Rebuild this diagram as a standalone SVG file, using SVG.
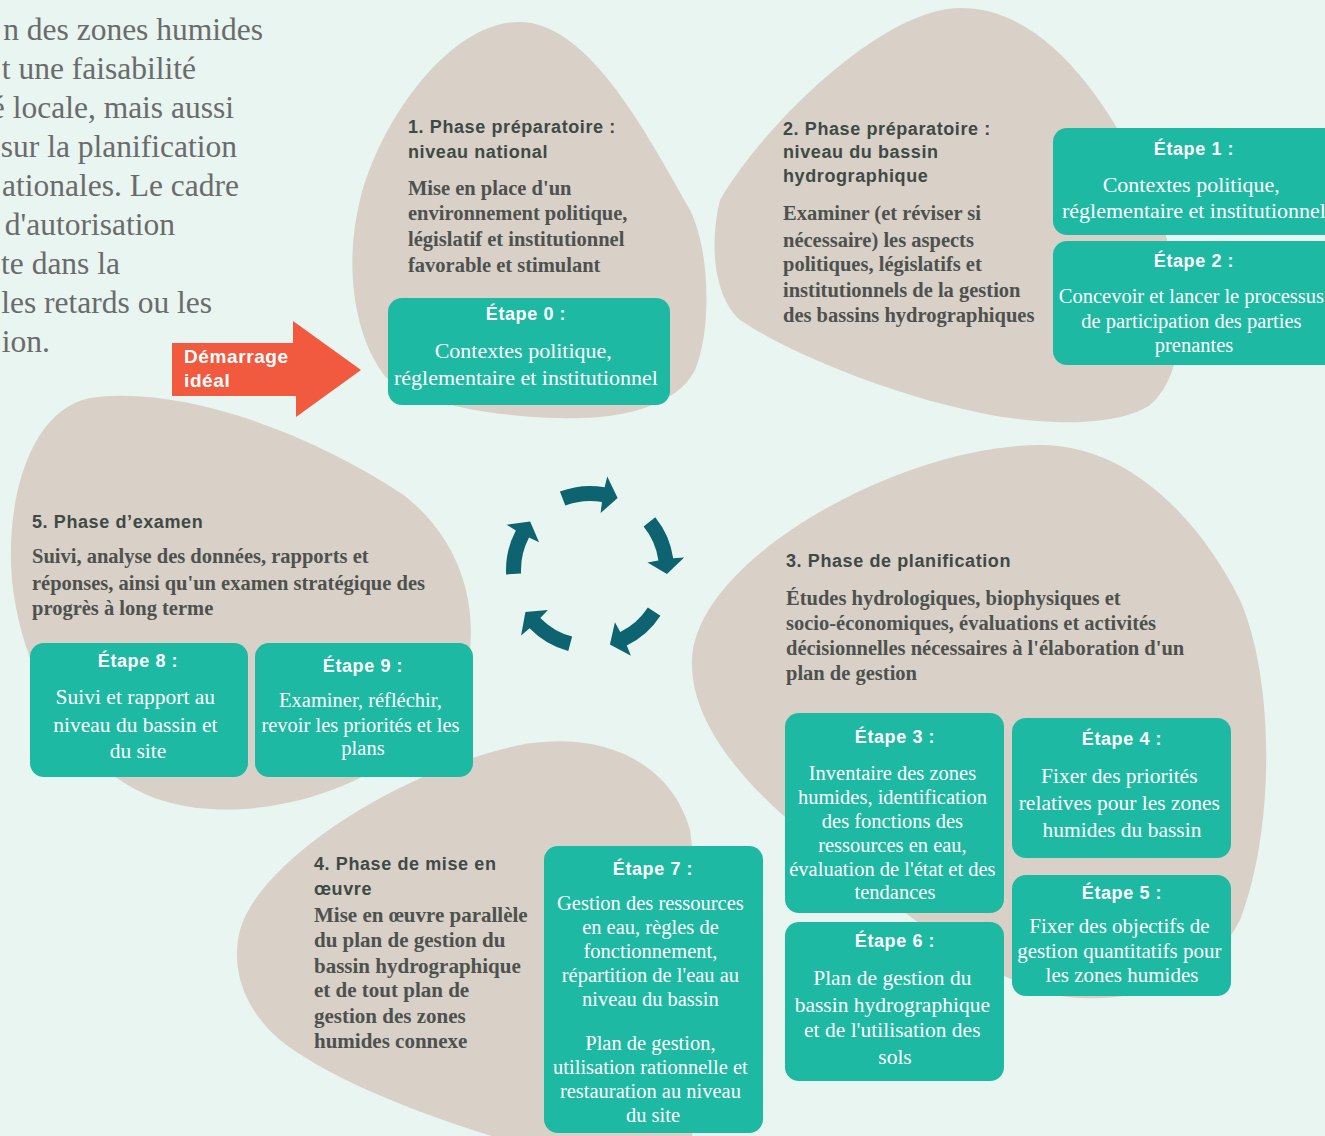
<svg xmlns="http://www.w3.org/2000/svg" width="1325" height="1136" viewBox="0 0 1325 1136">
  <defs>
    <style>
      .blob{fill:#d9d0c7}
      .box{fill:#1db9a2}
      .hd{font-family:'Liberation Sans',Arial,sans-serif;font-weight:700;font-size:18px;letter-spacing:0.6px;fill:#3e4a46}
      .bd{font-family:'Liberation Serif','Times New Roman',serif;font-weight:700;font-size:20.5px;fill:#4d524f}
      .st{font-family:'Liberation Sans',Arial,sans-serif;font-weight:700;font-size:18px;letter-spacing:0.6px;fill:#ffffff;text-anchor:middle}
      .sb{font-family:'Liberation Serif','Times New Roman',serif;font-size:21px;fill:#ffffff;text-anchor:middle}
      .intro{font-family:'Liberation Serif','Times New Roman',serif;font-size:31.5px;fill:#6b6b6b;text-anchor:end}
      .start{font-family:'Liberation Sans',Arial,sans-serif;font-weight:700;font-size:19px;letter-spacing:0.6px;fill:#ffffff}
      .cyc{fill:#0e6370}
    </style>
    <!-- one curved arrow of the cycle, centred on (590,570) -->
    <path id="cyc-arrow" d="M 559.9 491.6 A 84 84 0 0 1 604.6 487.3 L 607.3 476.6 L 617.6 498.1 L 600.6 513 L 602 502 A 69 69 0 0 0 565.3 505.6 Z"/>
  </defs>

  <rect width="1325" height="1136" fill="#e8f5f1"/>

  <!-- paragraph running in from the left margin -->
  <g id="intro-text" class="intro">
    <text x="263" y="40">n des zones humides</text>
    <text x="196" y="79">t une faisabilité</text>
    <text x="234" y="118">é locale, mais aussi</text>
    <text x="237" y="157">sur la planification</text>
    <text x="239" y="196">ationales. Le cadre</text>
    <text x="175" y="235">d'autorisation</text>
    <text x="120" y="274">te dans la</text>
    <text x="212" y="313">les retards ou les</text>
    <text x="50" y="352">ion.</text>
  </g>

  <!-- phase backgrounds -->
  <g id="phase-blobs">
    <path class="blob" d="M 519 22 C 585 22 640 120 690 210 C 710 250 712 330 695 370 C 675 410 610 420 560 418 C 470 416 395 395 382 372 C 352 330 345 260 360 200 C 380 120 450 22 519 22 Z"/>
    <path class="blob" d="M 961 8 C 1040 8 1100 90 1140 170 C 1180 250 1200 360 1150 405 C 1120 425 1060 425 1010 418 C 920 405 800 360 740 320 C 712 295 710 240 720 200 C 760 130 880 8 961 8 Z"/>
    <path class="blob" d="M 90 398 C 180 385 310 432 405 496 C 460 540 475 600 470 650 C 465 720 380 780 300 800 C 240 815 170 815 120 780 C 60 740 20 660 12 580 C 5 500 30 410 90 398 Z"/>
    <path class="blob" d="M 1040 445 C 1130 445 1200 520 1240 600 C 1275 680 1275 830 1240 920 C 1210 980 1150 1000 1080 998 C 1000 995 900 910 800 830 C 740 780 690 720 692 660 C 695 560 900 445 1040 445 Z"/>
    <path class="blob" d="M 240 930 C 260 860 400 770 520 745 C 600 730 670 760 690 830 C 700 900 700 1100 690 1150 L 540 1150 C 430 1120 330 1080 280 1040 C 245 1010 230 970 240 930 Z"/>
  </g>

  <!-- ideal starting point -->
  <g id="start">
    <polygon points="172,343 293,343 293,321 361,370 296,417 296,396 172,396" fill="#f15a3f"/>
    <text class="start" x="184" y="363">Démarrage</text>
    <text class="start" x="184" y="387">idéal</text>
  </g>

  <!-- phase 1 -->
  <g id="phase1">
    <text class="hd" x="408" y="133">1. Phase préparatoire :</text>
    <text class="hd" x="408" y="158">niveau national</text>
    <text class="bd">
      <tspan x="408" y="195">Mise en place d'un</tspan>
      <tspan x="408" y="220">environnement politique,</tspan>
      <tspan x="408" y="246">législatif et institutionnel</tspan>
      <tspan x="408" y="272">favorable et stimulant</tspan>
    </text>
  </g>
  <g id="step0">
    <rect class="box" x="388" y="298" width="282" height="107" rx="14"/>
    <text class="st" x="526" y="320">Étape 0 :</text>
    <text class="sb" style="font-size:22px">
      <tspan x="526" y="358">Contextes politique,</tspan>
      <tspan x="526" y="385">réglementaire et institutionnel</tspan>
    </text>
  </g>

  <!-- phase 2 -->
  <g id="phase2">
    <text class="hd" x="783" y="135">2. Phase préparatoire :</text>
    <text class="hd" x="783" y="158">niveau du bassin</text>
    <text class="hd" x="783" y="182">hydrographique</text>
    <text class="bd">
      <tspan x="783" y="220">Examiner (et réviser si</tspan>
      <tspan x="783" y="247">nécessaire) les aspects</tspan>
      <tspan x="783" y="271">politiques, législatifs et</tspan>
      <tspan x="783" y="297">institutionnels de la gestion</tspan>
      <tspan x="783" y="322">des bassins hydrographiques</tspan>
    </text>
  </g>
  <g id="step1">
    <rect class="box" x="1053" y="128" width="290" height="107" rx="14"/>
    <text class="st" x="1194" y="155">Étape 1 :</text>
    <text class="sb" style="font-size:22px">
      <tspan x="1194" y="192">Contextes politique,</tspan>
      <tspan x="1194" y="218">réglementaire et institutionnel</tspan>
    </text>
  </g>
  <g id="step2">
    <rect class="box" x="1053" y="241" width="290" height="124" rx="14"/>
    <text class="st" x="1194" y="267">Étape 2 :</text>
    <text class="sb" style="font-size:20.5px">
      <tspan x="1194" y="303">Concevoir et lancer le processus</tspan>
      <tspan x="1194" y="328">de participation des parties</tspan>
      <tspan x="1194" y="352">prenantes</tspan>
    </text>
  </g>

  <!-- phase 5 -->
  <g id="phase5">
    <text class="hd" x="32" y="528">5. Phase d’examen</text>
    <text class="bd">
      <tspan x="32" y="563">Suivi, analyse des données, rapports et</tspan>
      <tspan x="32" y="590">réponses, ainsi qu'un examen stratégique des</tspan>
      <tspan x="32" y="615">progrès à long terme</tspan>
    </text>
  </g>
  <g id="step8">
    <rect class="box" x="30" y="643" width="218" height="134" rx="14"/>
    <text class="st" x="138" y="667">Étape 8 :</text>
    <text class="sb" style="font-size:21.5px">
      <tspan x="138" y="704">Suivi et rapport au</tspan>
      <tspan x="138" y="732">niveau du bassin et</tspan>
      <tspan x="138" y="758">du site</tspan>
    </text>
  </g>
  <g id="step9">
    <rect class="box" x="255" y="643" width="218" height="134" rx="14"/>
    <text class="st" x="363" y="672">Étape 9 :</text>
    <text class="sb" style="font-size:20.5px">
      <tspan x="363" y="707">Examiner, réfléchir,</tspan>
      <tspan x="363" y="732">revoir les priorités et les</tspan>
      <tspan x="363" y="755">plans</tspan>
    </text>
  </g>

  <!-- phase 3 -->
  <g id="phase3">
    <text class="hd" x="786" y="567">3. Phase de planification</text>
    <text class="bd">
      <tspan x="786" y="605">Études hydrologiques, biophysiques et</tspan>
      <tspan x="786" y="630">socio-économiques, évaluations et activités</tspan>
      <tspan x="786" y="655">décisionnelles nécessaires à l'élaboration d'un</tspan>
      <tspan x="786" y="680">plan de gestion</tspan>
    </text>
  </g>
  <g id="step3">
    <rect class="box" x="785" y="713" width="219" height="200" rx="14"/>
    <text class="st" x="895" y="743">Étape 3 :</text>
    <text class="sb" style="font-size:20.5px">
      <tspan x="895" y="780">Inventaire des zones</tspan>
      <tspan x="895" y="804">humides, identification</tspan>
      <tspan x="895" y="828">des fonctions des</tspan>
      <tspan x="895" y="852">ressources en eau,</tspan>
      <tspan x="895" y="876">évaluation de l'état et des</tspan>
      <tspan x="895" y="899">tendances</tspan>
    </text>
  </g>
  <g id="step4">
    <rect class="box" x="1012" y="718" width="219" height="140" rx="14"/>
    <text class="st" x="1122" y="745">Étape 4 :</text>
    <text class="sb" style="font-size:21.5px">
      <tspan x="1122" y="783">Fixer des priorités</tspan>
      <tspan x="1122" y="810">relatives pour les zones</tspan>
      <tspan x="1122" y="837">humides du bassin</tspan>
    </text>
  </g>
  <g id="step5">
    <rect class="box" x="1012" y="875" width="219" height="121" rx="14"/>
    <text class="st" x="1122" y="899">Étape 5 :</text>
    <text class="sb">
      <tspan x="1122" y="933">Fixer des objectifs de</tspan>
      <tspan x="1122" y="958">gestion quantitatifs pour</tspan>
      <tspan x="1122" y="982">les zones humides</tspan>
    </text>
  </g>
  <g id="step6">
    <rect class="box" x="785" y="922" width="219" height="159" rx="14"/>
    <text class="st" x="895" y="947">Étape 6 :</text>
    <text class="sb" style="font-size:21.5px">
      <tspan x="895" y="985">Plan de gestion du</tspan>
      <tspan x="895" y="1012">bassin hydrographique</tspan>
      <tspan x="895" y="1037">et de l'utilisation des</tspan>
      <tspan x="895" y="1064">sols</tspan>
    </text>
  </g>

  <!-- phase 4 -->
  <g id="phase4">
    <text class="hd" x="314" y="870">4. Phase de mise en</text>
    <text class="hd" x="314" y="895">œuvre</text>
    <text class="bd" style="font-size:21px">
      <tspan x="314" y="922">Mise en œuvre parallèle</tspan>
      <tspan x="314" y="947">du plan de gestion du</tspan>
      <tspan x="314" y="973">bassin hydrographique</tspan>
      <tspan x="314" y="997">et de tout plan de</tspan>
      <tspan x="314" y="1023">gestion des zones</tspan>
      <tspan x="314" y="1048">humides connexe</tspan>
    </text>
  </g>
  <g id="step7">
    <rect class="box" x="544" y="846" width="219" height="287" rx="14"/>
    <text class="st" x="653" y="875">Étape 7 :</text>
    <text class="sb" style="font-size:20.5px">
      <tspan x="653" y="910">Gestion des ressources</tspan>
      <tspan x="653" y="934">en eau, règles de</tspan>
      <tspan x="653" y="958">fonctionnement,</tspan>
      <tspan x="653" y="982">répartition de l'eau au</tspan>
      <tspan x="653" y="1006">niveau du bassin</tspan>
      <tspan x="653" y="1050">Plan de gestion,</tspan>
      <tspan x="653" y="1074">utilisation rationnelle et</tspan>
      <tspan x="653" y="1098">restauration au niveau</tspan>
      <tspan x="653" y="1122">du site</tspan>
    </text>
  </g>

  <!-- clockwise cycle in the middle -->
  <g id="connectors" class="cyc">
    <use href="#cyc-arrow"/>
    <use href="#cyc-arrow" transform="rotate(72 590 570)"/>
    <use href="#cyc-arrow" transform="rotate(144 590 570)"/>
    <use href="#cyc-arrow" transform="rotate(216 590 570)"/>
    <use href="#cyc-arrow" transform="rotate(288 590 570)"/>
  </g>
</svg>
